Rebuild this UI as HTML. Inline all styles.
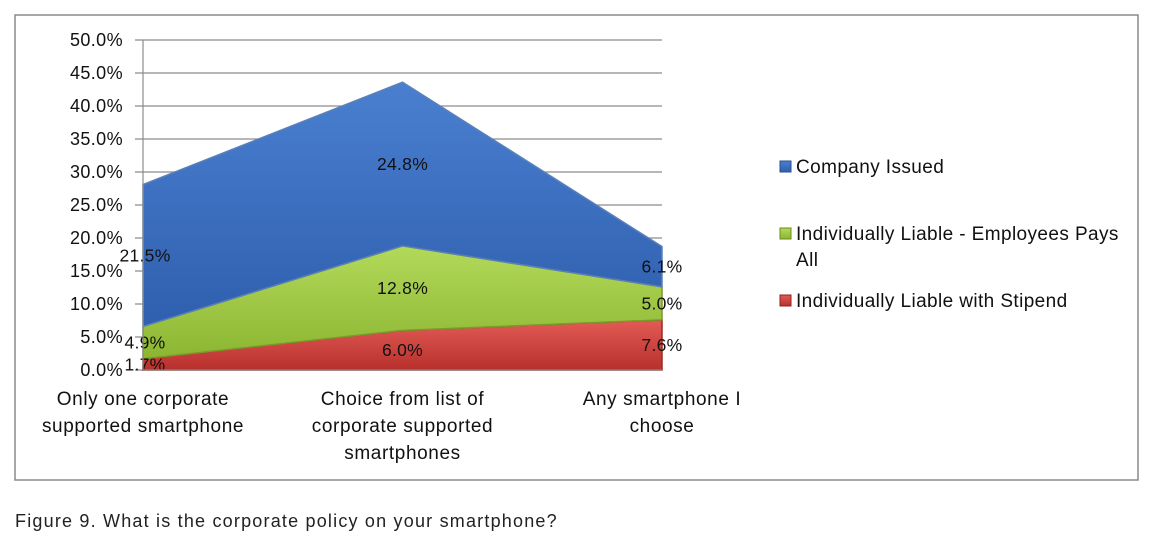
<!DOCTYPE html>
<html><head><meta charset="utf-8"><style>
body{margin:0;background:#fff;width:1160px;height:544px;overflow:hidden;font-family:"Liberation Sans",sans-serif}
svg text{font-family:"Liberation Sans",sans-serif}
</style></head><body>
<svg id="chart" width="1160" height="544">
<defs>
<linearGradient id="gb" x1="0" y1="0" x2="0" y2="1"><stop offset="0" stop-color="#4a7fd0"/><stop offset="1" stop-color="#2f5fae"/></linearGradient>
<linearGradient id="gg" x1="0" y1="0" x2="0" y2="1"><stop offset="0" stop-color="#b3d95a"/><stop offset="1" stop-color="#8cb632"/></linearGradient>
<linearGradient id="gr" x1="0" y1="0" x2="0" y2="1"><stop offset="0" stop-color="#e35b55"/><stop offset="1" stop-color="#b8302c"/></linearGradient>
</defs>
<rect x="15" y="15" width="1123" height="465" fill="#fff" stroke="#8a8a8a" stroke-width="1.5"/>
<g id="grid"></g><g id="areas"></g><g id="labels"></g><g id="axes"></g>
<g>
<rect x="780" y="161" width="11" height="11" fill="url(#gb)" stroke="#2a4f90"/>
<text x="796" y="173" font-size="19" letter-spacing="0.4" fill="#111">Company Issued</text>
<rect x="780" y="228" width="11" height="11" fill="url(#gg)" stroke="#6a8a20"/>
<text x="796" y="240" font-size="19" letter-spacing="0.4" fill="#111">Individually Liable - Employees Pays</text>
<text x="796" y="266" font-size="19" letter-spacing="0.4" fill="#111">All</text>
<rect x="780" y="295" width="11" height="11" fill="url(#gr)" stroke="#902020"/>
<text x="796" y="307" font-size="19" letter-spacing="0.4" fill="#111">Individually Liable with Stipend</text>
</g>
<text x="15" y="527" font-size="18" letter-spacing="1.2" fill="#222">Figure 9. What is the corporate policy on your smartphone?</text>
</svg>
<script>
const categories=[["Only one corporate","supported smartphone"],["Choice from list of","corporate supported","smartphones"],["Any smartphone I","choose"]];
const stipend=[1.7,6.0,7.6];
const employeePays=[4.9,12.8,5.0];
const companyIssued=[21.5,24.8,6.1];
const yTicks=[0,5,10,15,20,25,30,35,40,45,50];
const NS="http://www.w3.org/2000/svg";
const x0=143,x1=662,yTop=40,yBot=370,yMax=50;
const X=i=>x0+i*(x1-x0)/(categories.length-1);
const Y=v=>yBot-(v/yMax)*(yBot-yTop);
function mk(tag,attrs,parent,txt){const e=document.createElementNS(NS,tag);for(const k in attrs)e.setAttribute(k,attrs[k]);if(txt!==undefined)e.textContent=txt;parent.appendChild(e);return e;}
const grid=document.getElementById('grid'),areas=document.getElementById('areas'),labels=document.getElementById('labels'),axes=document.getElementById('axes');
yTicks.forEach(t=>{
 const l=mk('line',{x1:x0-8,x2:x1,y1:Y(t),y2:Y(t),stroke:'#8c8c8c','stroke-width':1.2},grid);
 
 
 const tx=mk('text',{x:123,y:Y(t)+6,'font-size':18,'letter-spacing':0.4,'text-anchor':'end',fill:'#111'},axes,t.toFixed(1)+'%');
 
 
});
const series=[{v:stipend,f:'url(#gr)',s:'#9a2a26',n:'stipend'},{v:employeePays,f:'url(#gg)',s:'#7a9a2a',n:'employee-pays'},{v:companyIssued,f:'url(#gb)',s:'#5a80b8',n:'company-issued'}];
let base=categories.map(()=>0);
series.forEach(s=>{
 const top=base.map((b,i)=>b+s.v[i]);
 let pts=top.map((t,i)=>X(i)+','+Y(t));
 let bpts=base.map((b,i)=>X(i)+','+Y(b)).reverse();
 const p=mk('polygon',{points:pts.concat(bpts).join(' '),fill:s.f,stroke:s.s,'stroke-width':1.5},areas);
 
 
 s.v.forEach((v,i)=>{
  let lx=X(i)+(i===0?2:0);
  const ly=(Y(base[i])+Y(top[i]))/2+6;
  const t=mk('text',{x:lx,y:ly,'font-size':17.5,'letter-spacing':0.3,'text-anchor':'middle',fill:'#111'},labels,v.toFixed(1)+'%');
  
  
 });
 base=top;
});
const ax=mk('line',{x1:x0,x2:x0,y1:yTop,y2:yBot,stroke:'#8c8c8c','stroke-width':1.2},axes);


const bx=mk('line',{x1:x0,x2:x1,y1:yBot,y2:yBot,stroke:'#8c8c8c','stroke-width':1.2},axes);


categories.forEach((c,i)=>{
 c.forEach((line,j)=>{
  const t=mk('text',{x:X(i),y:405+j*27,'font-size':19,'letter-spacing':0.6,'text-anchor':'middle',fill:'#111'},axes,line);
  
  
 });
});
</script>
</body></html>
